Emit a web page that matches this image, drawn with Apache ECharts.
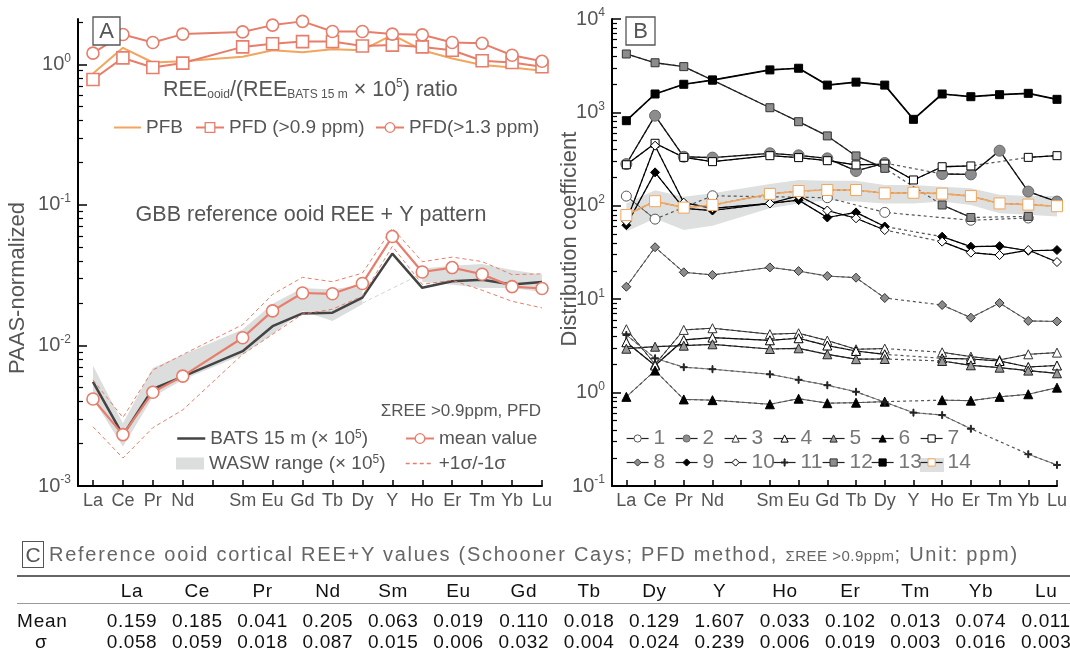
<!DOCTYPE html>
<html>
<head>
<meta charset="utf-8">
<script src="https://cdn.jsdelivr.net/npm/echarts@6/dist/echarts.min.js"></script>
<style>
  body { margin: 0; background: #fff; font-family: "Liberation Sans", Arial, sans-serif; }
  #chart { position: absolute; left: 0; top: 0; width: 1070px; height: 653px; }
  #tableC { position: absolute; left: 0; top: 0; width: 1070px; height: 653px; pointer-events: none; }
  #tableC div { position: absolute; white-space: nowrap; }
</style>
</head>
<body>
<div id="chart"></div>
<div id="tableC"></div>
<script>
// x ticks (Pm slot left blank) and the elements that carry values
const TICK_LABELS = ['La', 'Ce', 'Pr', 'Nd', '', 'Sm', 'Eu', 'Gd', 'Tb', 'Dy', 'Y', 'Ho', 'Er', 'Tm', 'Yb', 'Lu'];
const ELEMENTS = ['La', 'Ce', 'Pr', 'Nd', 'Sm', 'Eu', 'Gd', 'Tb', 'Dy', 'Y', 'Ho', 'Er', 'Tm', 'Yb', 'Lu'];

// panel A, upper: REE_ooid / (REE_BATS x 1e5)
const PFB = [0.86, 1.31, 1.03, 1.05, 1.13, 1.26, 1.22, 1.28, 1.26, 1.62, 1.26, 1.10, 0.99, 0.95, 0.90];
const PFD_09 = [0.78, 1.11, 0.95, 1.02, 1.33, 1.40, 1.45, 1.45, 1.35, 1.37, 1.33, 1.26, 1.06, 1.03, 0.96];
const PFD_13 = [1.20, 1.63, 1.43, 1.64, 1.70, 1.90, 2.02, 1.71, 1.71, 1.64, 1.62, 1.43, 1.41, 1.16, 1.05];

// panel A, lower: PAAS-normalized patterns
const BATS = [0.0055, 0.0023, 0.0049, 0.0060, 0.0091, 0.0137, 0.0169, 0.0171, 0.0219, 0.045, 0.0257, 0.0286, 0.0293, 0.0271, 0.0283];
const MEAN = [0.00416, 0.00232, 0.00464, 0.00605, 0.01135, 0.0176, 0.0236, 0.0233, 0.0276, 0.0595, 0.0333, 0.0358, 0.0321, 0.0262, 0.0254];
const PLUS_SIGMA = [0.00568, 0.00307, 0.00668, 0.00861, 0.01405, 0.0231, 0.0305, 0.0284, 0.0327, 0.0684, 0.0394, 0.0425, 0.0395, 0.0319, 0.0323];
const MINUS_SIGMA = [0.00264, 0.00158, 0.0026, 0.00348, 0.00865, 0.0120, 0.0167, 0.0181, 0.0224, 0.0507, 0.0272, 0.0291, 0.0247, 0.0206, 0.0185];
const WASW_LOW = [0.0042, 0.0019, 0.0043, 0.0057, 0.0086, 0.0120, 0.0176, 0.0149, 0.0196, null, 0.0283, 0.0270, 0.0256, 0.0256, 0.0240];
const WASW_HIGH = [0.0072, 0.0028, 0.0069, 0.0086, 0.0130, 0.0198, 0.0256, 0.0250, 0.0270, null, 0.0353, 0.0369, 0.0380, 0.0344, 0.0320];
const WASW_BRIDGE = [null, null, null, null, null, null, null, null, 0.0200, null, 0.0325, null, null, null, null];

// panel B: distribution coefficients, null = no value
const B1 = [127, 72, null, 128, null, null, 122, null, 85, null, null, 70, null, 74, null];
const B2 = [280, 922, 335, 328, 365, 347, 322, 236, 287, null, 219, 217, 389, 142, 111];
const B3 = [4.77, 2.01, 4.69, 4.89, 4.22, 4.32, 3.61, 2.91, 2.96, null, 2.70, 2.43, 2.24, 2.57, 2.68];
const B4 = [3.46, 1.95, 3.66, 3.88, 3.63, 3.82, 3.19, 2.79, 2.57, null, 2.33, 2.29, 2.18, 1.88, 1.95];
const B5 = [2.95, 3.10, 3.18, 3.29, 2.93, 2.98, 2.57, 2.28, 2.29, null, 2.18, 1.96, 1.85, 1.72, 1.61];
const B6 = [0.90, 1.72, 0.845, 0.83, 0.75, 0.86, 0.77, 0.78, 0.80, null, 0.83, 0.82, 0.90, 0.96, 1.13];
const B7 = [275, 467, 330, 297, 344, 328, 304, 274, 280, 189, 262, 267, null, 330, 344];
const B8 = [13.6, 36, 19.4, 18.2, 21.9, 20, 17.7, 17, 10.3, null, 8.66, 6.34, 9.1, 5.85, 5.78];
const B9 = [62, 228, 94, 89, 106, 115, 75, 85, 60, null, 46.7, 36.5, 37, 33, 33.6];
const B10 = [68, 440, 108, 94, 106, 128, 89, 73.5, 55, null, 41.3, 31.5, 29.7, 33.6, 25];
const B11 = [4.14, 2.33, 1.87, 1.78, 1.57, 1.37, 1.20, 1.02, 0.79, 0.61, 0.575, 0.41, null, 0.219, 0.168];
const B12 = [4220, 3400, 3090, 2220, 1122, 795, 560, 342, 252, null, 102, 75, null, 77, null];
const B13 = [815, 1574, 2000, 2220, 2850, 2970, 1960, 2110, 1960, 843, 1574, 1472, 1548, 1600, 1380];
const B14 = [79.6, 112, 95.6, 102, 134, 144, 147.5, 147.5, 136, 138, 135, 127, 106, 103, 99];
const B14_LOW = [53, 73, 55, 61, 94, 106, 115, 111, 106, 106, 111, 102, 83, 80, 77];
const B14_HIGH = [106, 147, 125, 136, 171, 189, 186, 186, 167, 167, 160, 154, 131, 127, 127];

// panel C table (ppm)
const TABLE_MEAN = [0.159, 0.185, 0.041, 0.205, 0.063, 0.019, 0.110, 0.018, 0.129, 1.607, 0.033, 0.102, 0.013, 0.074, 0.011];
const TABLE_SIGMA = [0.058, 0.059, 0.018, 0.087, 0.015, 0.006, 0.032, 0.004, 0.024, 0.239, 0.006, 0.019, 0.003, 0.016, 0.003];

const FONT = '"Liberation Sans", Arial, sans-serif';
const GREY = '#555';
const SALMON = '#e67e6b';
const ORANGE = '#f2a55c';
const PLUS = 'path://M4.3,0H5.7V4.3H10V5.7H5.7V10H4.3V5.7H0V4.3H4.3Z';
const TICK_POS = TICK_LABELS.map((_, i) => i);

// [x, y] pairs on the tick grid; keepGaps puts a break where a value is missing
function pairs(values, keepGaps) {
  const out = [];
  ELEMENTS.forEach((el, k) => {
    const x = TICK_LABELS.indexOf(el);
    const v = values[k];
    if (v == null) {
      if (keepGaps) out.push([x, null]);
    } else {
      out.push([x, v]);
    }
  });
  return out;
}

function minorLogTicks(minExp, maxVal) {
  const out = [];
  for (let e = minExp; e < 6; e++) {
    for (let k = 2; k <= 9; k++) {
      const v = k * Math.pow(10, e);
      if (v > maxVal * 1.0001) return out;
      out.push(Math.log10(v));
    }
  }
  return out;
}

function xAxisFor(gridIndex) {
  return {
    type: 'value', gridIndex, min: -0.5, max: 15,
    axisLine: { onZero: false, lineStyle: { color: '#000', width: 2 } },
    axisTick: { inside: true, length: 6, customValues: TICK_POS, lineStyle: { color: '#000', width: 1.5 } },
    axisLabel: {
      customValues: TICK_POS, color: GREY, fontSize: 18, fontFamily: FONT, margin: 6,
      formatter: (v) => (TICK_LABELS[v] === 'Dy' ? '{r|Dy}' : TICK_LABELS[v] || ''),
      rich: { r: { fontSize: 18, color: GREY, fontFamily: FONT, padding: [0, 0, 7, 0] } },
    },
    splitLine: { show: false },
  };
}

// one log axis that carries the data + two linear twins for decade labels and minor ticks
function yAxesFor(gridIndex, minExp, maxVal) {
  const maxLog = Math.log10(maxVal);
  const majors = [];
  for (let e = minExp; e <= Math.floor(maxLog + 1e-9); e++) majors.push(e);
  return [
    {
      type: 'log', gridIndex, min: Math.pow(10, minExp), max: maxVal, position: 'left',
      axisLine: { onZero: false, lineStyle: { color: '#000', width: 2 } },
      axisTick: { show: false }, axisLabel: { show: false }, splitLine: { show: false },
    },
    {
      type: 'value', gridIndex, min: minExp, max: maxLog, position: 'left', offset: 0,
      axisLine: { show: false, onZero: false },
      axisTick: { inside: true, length: 9, customValues: majors, lineStyle: { color: '#000', width: 1.5 } },
      axisLabel: {
        customValues: majors, margin: 7,
        formatter: (v) => '{b|10}{s|' + v + '}',
        rich: {
          b: { fontSize: 20, color: GREY, fontFamily: FONT, lineHeight: 24 },
          s: { fontSize: 12, color: GREY, fontFamily: FONT, verticalAlign: 'top', lineHeight: 13 },
        },
      },
      splitLine: { show: false },
    },
    {
      type: 'value', gridIndex, min: minExp, max: maxLog, position: 'left', offset: 0,
      axisLine: { show: false, onZero: false },
      axisTick: { inside: true, length: 5, customValues: minorLogTicks(minExp, maxVal), lineStyle: { color: '#000', width: 1.2 } },
      axisLabel: { show: false }, splitLine: { show: false },
    },
  ];
}

// filled range between two value arrays, drawn through the axis scales
function bandSeries(name, lo, hi, xAxisIndex, yAxisIndex, color) {
  const rows = [];
  ELEMENTS.forEach((el, k) => rows.push([TICK_LABELS.indexOf(el), lo[k], hi[k]]));
  return {
    type: 'custom', name, xAxisIndex, yAxisIndex, silent: true, z: 1,
    itemStyle: { color },
    data: rows.filter((r) => r[1] != null).map((r) => [r[0], r[1], r[2]]),
    encode: { x: 0, y: [1, 2] },
    renderItem: (params, api) => {
      if (params.dataIndex !== 0) return null;
      const children = [];
      let seg = [];
      const flush = () => {
        if (seg.length > 1) {
          const top = seg.map((r) => api.coord([r[0], r[2]]));
          const bot = seg.slice().reverse().map((r) => api.coord([r[0], r[1]]));
          children.push({ type: 'polygon', shape: { points: top.concat(bot) }, style: { fill: color } });
        }
        seg = [];
      };
      rows.forEach((r) => { if (r[1] == null || r[2] == null) flush(); else seg.push(r); });
      flush();
      return { type: 'group', children };
    },
  };
}

const series = [];

// ---------- panel A ----------
function aLine(name, values, opt) {
  return Object.assign({
    type: 'line', name, xAxisIndex: 0, yAxisIndex: 0, data: pairs(values, true),
    symbol: 'none', silent: true, z: 3,
  }, opt);
}

series.push(bandSeries('WASW range (× 10^5)', WASW_LOW, WASW_HIGH, 0, 0, '#dcdddd'));
series.push(aLine('WASW-bridge', WASW_BRIDGE, {
  connectNulls: true, lineStyle: { color: '#d2d2d2', width: 1, type: [4, 3] }, z: 1,
}));
series.push(aLine('PFB', PFB, { lineStyle: { color: ORANGE, width: 2 }, itemStyle: { color: ORANGE } }));
series.push(aLine('PFD (>0.9 ppm)', PFD_09, {
  symbol: 'rect', symbolSize: 12, lineStyle: { color: SALMON, width: 2 },
  itemStyle: { color: '#fff', borderColor: SALMON, borderWidth: 1.6 },
}));
series.push(aLine('PFD(>1.3 ppm)', PFD_13, {
  symbol: 'circle', symbolSize: 12, lineStyle: { color: SALMON, width: 2 },
  itemStyle: { color: '#fff', borderColor: SALMON, borderWidth: 1.6 },
}));
series.push(aLine('BATS 15 m (× 10^5)', BATS, { lineStyle: { color: '#444', width: 2.5 }, itemStyle: { color: '#444' } }));
series.push(aLine('+1σ/-1σ', PLUS_SIGMA, { lineStyle: { color: SALMON, width: 1, type: [4, 3] }, itemStyle: { color: SALMON } }));
series.push(aLine('+1σ/-1σ', MINUS_SIGMA, { lineStyle: { color: SALMON, width: 1, type: [4, 3] }, itemStyle: { color: SALMON } }));
series.push(aLine('mean value', MEAN, {
  symbol: 'circle', symbolSize: 12, lineStyle: { color: SALMON, width: 2.2 },
  itemStyle: { color: '#fff', borderColor: SALMON, borderWidth: 1.6 }, z: 4,
}));

// ---------- panel B ----------
const B_SERIES = [
  ['1', B1, { symbol: 'circle', size: 10, fill: '#fff', border: '#555', line: '#555', lw: 1 }],
  ['2', B2, { symbol: 'circle', size: 11, fill: '#8c8c8c', border: '#666', line: '#111', lw: 1.3 }],
  ['3', B3, { symbol: 'triangle', size: 9, fill: '#fff', border: '#333', line: '#333', lw: 1 }],
  ['4', B4, { symbol: 'triangle', size: 9, fill: '#fff', border: '#000', line: '#111', lw: 1.2 }],
  ['5', B5, { symbol: 'triangle', size: 9, fill: '#999', border: '#222', line: '#222', lw: 1.2 }],
  ['6', B6, { symbol: 'triangle', size: 9, fill: '#000', border: '#000', line: '#555', lw: 1 }],
  ['7', B7, { symbol: 'rect', size: 8, fill: '#fff', border: '#000', line: '#000', lw: 1.3 }],
  ['8', B8, { symbol: 'diamond', size: 9, fill: '#8c8c8c', border: '#333', line: '#555', lw: 1 }],
  ['9', B9, { symbol: 'diamond', size: 9, fill: '#000', border: '#000', line: '#000', lw: 1.2 }],
  ['10', B10, { symbol: 'diamond', size: 9, fill: '#fff', border: '#000', line: '#000', lw: 1.2 }],
  ['11', B11, { symbol: PLUS, size: 7, fill: '#222', border: '#222', line: '#666', lw: 0.9 }],
  ['12', B12, { symbol: 'rect', size: 8, fill: '#8c8c8c', border: '#333', line: '#222', lw: 1.3 }],
  ['13', B13, { symbol: 'rect', size: 8, fill: '#000', border: '#000', line: '#000', lw: 1.7 }],
  ['14', B14, { symbol: 'rect', size: 11, fill: '#fff', border: ORANGE, line: ORANGE, lw: 1.6 }],
];

series.push(bandSeries('band14', B14_LOW, B14_HIGH, 1, 3, '#dedfdf'));

B_SERIES.forEach(([name, values, st]) => {
  series.push({
    type: 'line', name, xAxisIndex: 1, yAxisIndex: 3, data: pairs(values, true),
    symbol: st.symbol, symbolSize: st.size, showAllSymbol: true,
    lineStyle: { color: st.line, width: st.lw },
    itemStyle: { color: st.fill, borderColor: st.border, borderWidth: 1 },
    silent: true, z: 4,
  });
  // dashed link across missing elements
  series.push({
    type: 'line', name: name + '-gap', xAxisIndex: 1, yAxisIndex: 3, data: pairs(values, false),
    symbol: 'none', lineStyle: { color: '#555', width: 1.2, type: [3, 3] }, silent: true, z: 2,
  });
});

// ---------- legends ----------
function legendAt(item, left, centerY, w, h, fontSize, color) {
  return {
    data: [item], left, top: centerY - Math.round(fontSize * 0.6), padding: 0, itemGap: 0,
    itemWidth: w, itemHeight: h, selectedMode: false,
    formatter: (n) => n.replace('^5', '{s|5}'),
    textStyle: {
      fontSize, color, fontFamily: FONT,
      rich: { s: { fontSize: Math.round(fontSize * 0.62), color, fontFamily: FONT, verticalAlign: 'top', lineHeight: 10 } },
    },
  };
}
const legends = [
  legendAt({ name: 'PFB', itemStyle: { opacity: 0 }, lineStyle: { color: ORANGE, width: 2 } }, 113, 129, 27, 12, 19, GREY),
  legendAt({ name: 'PFD (>0.9 ppm)', itemStyle: { color: '#fff', borderColor: SALMON, borderWidth: 1.3 }, lineStyle: { color: SALMON, width: 2 } }, 195, 129, 28, 12, 19, GREY),
  legendAt({ name: 'PFD(>1.3 ppm)', itemStyle: { color: '#fff', borderColor: SALMON, borderWidth: 1.3 }, lineStyle: { color: SALMON, width: 2 } }, 375, 129, 28, 12, 19, GREY),
  legendAt({ name: 'BATS 15 m (× 10^5)', itemStyle: { opacity: 0 }, lineStyle: { color: '#444', width: 2.5 } }, 176, 440, 28, 12, 19, GREY),
  legendAt({ name: 'mean value', itemStyle: { color: '#fff', borderColor: SALMON, borderWidth: 1.3 }, lineStyle: { color: SALMON, width: 2 } }, 405, 440, 28, 12, 19, GREY),
  legendAt({ name: 'WASW range (× 10^5)', icon: 'rect', itemStyle: { color: '#dcdddd', borderWidth: 0 } }, 176, 465, 28, 12, 19, GREY),
  legendAt({ name: '+1σ/-1σ', itemStyle: { opacity: 0 }, lineStyle: { color: SALMON, width: 1.5, type: [4, 3] } }, 405, 465, 28, 12, 19, GREY),
];
B_SERIES.forEach(([name, , st], i) => {
  const row = i < 7 ? 0 : 1;
  const col = i % 7;
  legends.push(legendAt({
    name,
    itemStyle: { color: st.fill, borderColor: st.border, borderWidth: 1 },
    lineStyle: { color: '#222', width: 1.2 },
  }, 626 + 49 * col, row === 0 ? 441 : 465, 22, 9, 21, '#777'));
});

// ---------- text / frames ----------
function boxLabel(letter, x, y, w, h) {
  return [
    { type: 'rect', shape: { x, y, width: w, height: h }, style: { fill: '#fff', stroke: GREY, lineWidth: 1.3 }, z: 50 },
    { type: 'text', x: x + w / 2, y: y + h / 2 + 1, style: { text: letter, fontSize: 22, fontFamily: FONT, fill: GREY, align: 'center', verticalAlign: 'middle' }, z: 51 },
  ];
}
const graphic = [].concat(
  boxLabel('A', 93, 17, 27, 28),
  boxLabel('B', 626, 17, 29, 28),
  [
    {
      type: 'text', x: 163, y: 90, z: 50,
      style: {
        text: '{m|REE}{u|ooid}{m|/(REE}{u|BATS 15 m}{m| × 10}{p|5}{m|) ratio}',
        verticalAlign: 'middle',
        rich: {
          m: { fontSize: 21.5, fontFamily: FONT, fill: GREY, lineHeight: 28 },
          u: { fontSize: 12, fontFamily: FONT, fill: GREY, verticalAlign: 'bottom', lineHeight: 12, padding: [0, 0, 3, 0] },
          p: { fontSize: 12, fontFamily: FONT, fill: GREY, verticalAlign: 'top', lineHeight: 12, padding: [2, 0, 0, 0] },
        },
      },
    },
    { type: 'text', x: 311, y: 215, z: 50, style: { text: 'GBB reference ooid REE + Y pattern', fontSize: 21.5, fontFamily: FONT, fill: GREY, align: 'center', verticalAlign: 'middle' } },
    { type: 'text', x: 541, y: 411, z: 50, style: { text: 'ΣREE >0.9ppm, PFD', fontSize: 17, fontFamily: FONT, fill: GREY, align: 'right', verticalAlign: 'middle' } },
    { type: 'text', x: 18, y: 288, rotation: Math.PI / 2, z: 50, style: { text: 'PAAS-normalized', fontSize: 22, fontFamily: FONT, fill: GREY, align: 'center', verticalAlign: 'middle' } },
    { type: 'text', x: 570, y: 239, rotation: Math.PI / 2, z: 50, style: { text: 'Distribution coefficient', fontSize: 22, fontFamily: FONT, fill: GREY, align: 'center', verticalAlign: 'middle' } },
    { type: 'rect', shape: { x: 920, y: 458, width: 24, height: 14 }, style: { fill: '#dedfdf' }, z: 0 },
  ]
);

const chart = echarts.init(document.getElementById('chart'), null, { renderer: 'canvas' });
chart.setOption({
  animation: false,
  grid: [
    { left: 78, top: 19, width: 464, height: 467 },
    { left: 612, top: 19, width: 449.5, height: 467 },
  ],
  xAxis: [xAxisFor(0), xAxisFor(1)],
  yAxis: yAxesFor(0, -3, 2.1).concat(yAxesFor(1, -1, 10000)),
  legend: legends,
  graphic,
  series,
});

// ---------- panel C table ----------
(function buildTable() {
  const root = document.getElementById('tableC');
  const add = (html, css) => {
    const d = document.createElement('div');
    d.innerHTML = html;
    Object.assign(d.style, css);
    root.appendChild(d);
  };
  add('C', { left: '22px', top: '541px', width: '20px', height: '25px', border: '1.3px solid #555', color: '#555', fontSize: '21px', lineHeight: '25px', textAlign: 'center' });
  add('Reference ooid cortical REE+Y values (Schooner Cays; PFD method, <span style="font-size:15px;letter-spacing:0.5px">ΣREE &gt;0.9ppm</span>; Unit: ppm)',
    { left: '49px', top: '542px', color: '#666', fontSize: '20px', lineHeight: '24px', letterSpacing: '1.75px' });
  add('', { left: '17px', top: '575px', width: '1053px', height: '2px', background: '#666' });
  add('', { left: '17px', top: '603px', width: '1053px', height: '1px', background: '#999' });
  const cx = (k) => 132 + 65.3 * k;
  const cell = { width: '66px', textAlign: 'center', fontSize: '19px', color: '#111', lineHeight: '21px', letterSpacing: '0.6px' };
  ELEMENTS.forEach((el, k) => {
    add(el, Object.assign({}, cell, { left: (cx(k) - 33) + 'px', top: '580px' }));
    add(TABLE_MEAN[k].toFixed(3), Object.assign({}, cell, { left: (cx(k) - 33) + 'px', top: '610px' }));
    add(TABLE_SIGMA[k].toFixed(3), Object.assign({}, cell, { left: (cx(k) - 33) + 'px', top: '631px' }));
  });
  add('Mean', { left: '17px', top: '610px', fontSize: '19px', color: '#111', lineHeight: '21px', letterSpacing: '0.8px' });
  add('σ', { left: '35px', top: '631px', fontSize: '19px', color: '#111', lineHeight: '21px' });
})();
</script>
</body>
</html>
